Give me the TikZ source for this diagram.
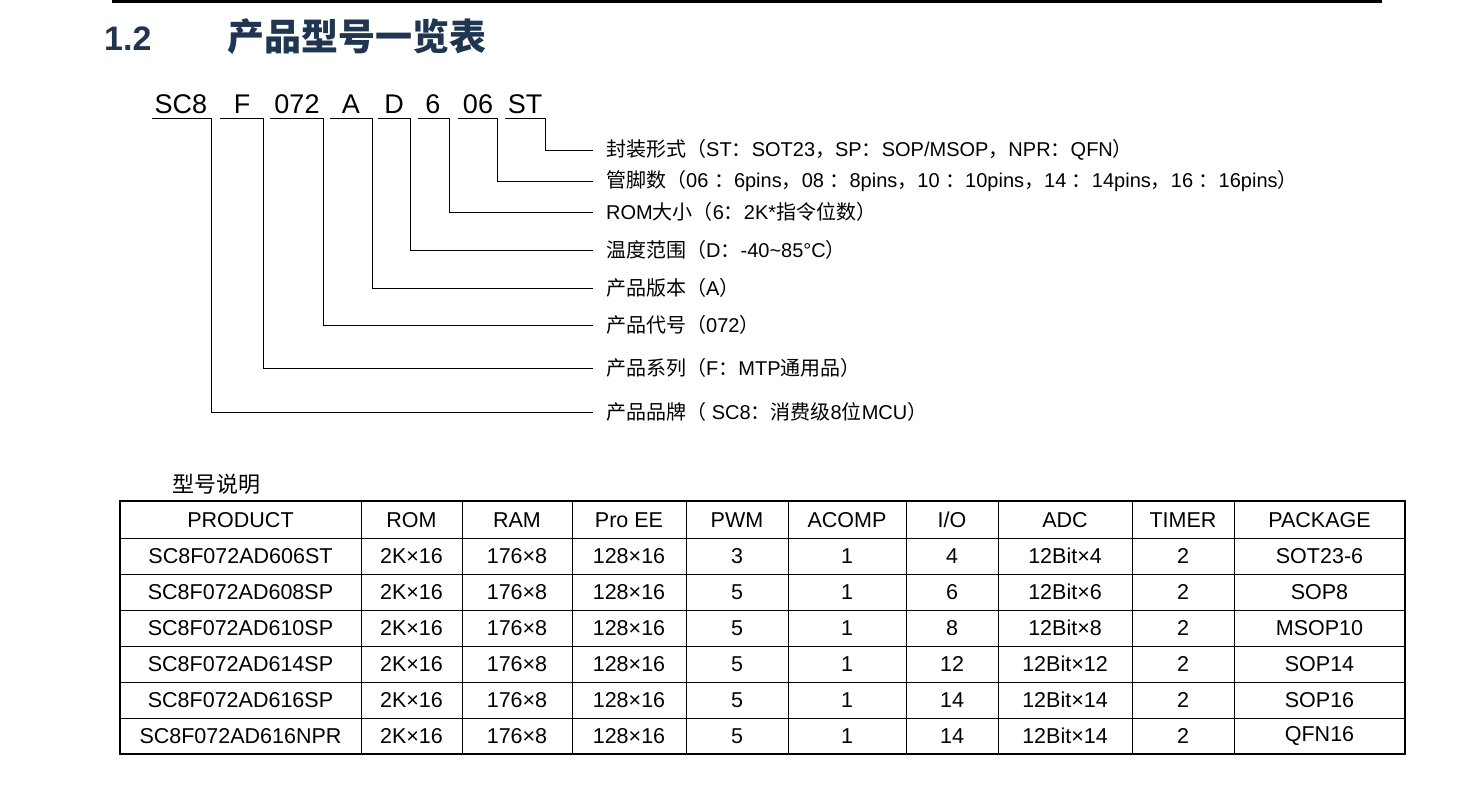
\documentclass[tikz,border=0pt]{standalone}
\usepackage{fontspec}
\setmainfont{Liberation Sans}
\newfontfamily\cjk{Noto Sans CJK SC}
\definecolor{navy}{HTML}{1F3550}
\begin{document}
\begin{tikzpicture}[x=1pt,y=-1pt,
  lab/.style={anchor=west,font=\fontsize{20}{22}\selectfont,inner sep=0pt},
  code/.style={font=\fontsize{27}{29}\selectfont,inner sep=0pt,anchor=base},
  cell/.style={font=\fontsize{21.5}{23}\selectfont,inner sep=0pt},
  ln/.style={line width=1pt}]
\useasboundingbox (0,0) rectangle (1478,798);
\fill[black] (112,0) rectangle (1382,3);
\node[anchor=base west,inner sep=0pt,text=navy,font=\bfseries\fontsize{34}{36}\selectfont] (t1) at (104,50) {1.2};
\node[anchor=base west,inner sep=0pt,text=navy,font=\cjk\bfseries\fontsize{37}{39}\selectfont] (t2) at (227,50) {产品型号一览表};
% code letters
\foreach \t/\x in {SC8/181,F/242,072/297,A/351,D/394,6/433,06/478,ST/525}
  \node[code] at (\x,113) {\t};
% underlines + leader lines
\foreach \a/\b/\y in {152/211/412,220/263/368,270/323/325,330/372/288,378/410/250,418/449/212,458/497/181,505/545/150}
  \draw[ln] (\a,118) -- (\b,118) -- (\b,\y) -- (593,\y);
\node[lab] (l1) at (606,150) {{\cjk 封装形式（}ST{\cjk ：}SOT23{\cjk ，}SP{\cjk ：}SOP/MSOP{\cjk ，}NPR{\cjk ：}QFN{\cjk ）}};
\node[lab] (l2) at (606,181) {{\cjk 管脚数（}06 {\cjk ：}6pins{\cjk ，}08 {\cjk ：}8pins{\cjk ，}10 {\cjk ：}10pins{\cjk ，}14 {\cjk ：}14pins{\cjk ，}16 {\cjk ：}16pins{\cjk ）}};
\node[lab] (l3) at (606,212) {ROM{\cjk 大小（}6{\cjk ：}2K*{\cjk 指令位数）}};
\node[lab] (l4) at (606,250) {{\cjk 温度范围（}D{\cjk ：}-40\textasciitilde 85°C{\cjk ）}};
\node[lab] (l5) at (606,288) {{\cjk 产品版本（}A{\cjk ）}};
\node[lab] (l6) at (606,325) {{\cjk 产品代号（}072{\cjk ）}};
\node[lab] (l7) at (606,368) {{\cjk 产品系列（}F{\cjk ：}MTP{\cjk 通用品）}};
\node[lab] (l8) at (606,412) {{\cjk 产品品牌（} SC8{\cjk ：消费级}8{\cjk 位}MCU{\cjk ）}};
\node[anchor=west,inner sep=0pt,font=\cjk\fontsize{22}{24}\selectfont] (cap) at (172,484) {型号说明};
% table grid
\draw[line width=1.6pt] (120,501) rectangle (1405,754);
\foreach \y in {538,574,610,646,682,718} \draw[ln] (120,\y) -- (1405,\y);
\foreach \x in {361,462,572,686,788,906,998,1132,1234} \draw[ln] (\x,501) -- (\x,754);
\def\row#1#2{%
  \foreach \c/\x [count=\i] in {#2} \node[cell] at (\x,#1) {\c};}
\def\cx{240.5,411.5,517,629,737,847,952,1065,1183,1319.5}
\foreach \t [count=\i] in {PRODUCT,ROM,RAM,Pro EE,PWM,ACOMP,I/O,ADC,TIMER,PACKAGE}{
  \pgfmathparse{{240.5,411.5,517,629,737,847,952,1065,1183,1319.5}[\i-1]}
  \node[cell] at (\pgfmathresult,520) {\t};}
\foreach \y/\p/\pw/\io/\adc/\pk in {556/SC8F072AD606ST/3/4/12Bit×4/SOT23-6,
  592/SC8F072AD608SP/5/6/12Bit×6/SOP8,
  628/SC8F072AD610SP/5/8/12Bit×8/MSOP10,
  664/SC8F072AD614SP/5/12/12Bit×12/SOP14,
  700/SC8F072AD616SP/5/14/12Bit×14/SOP16,
  736/SC8F072AD616NPR/5/14/12Bit×14/QFN16}{
  \node[cell] at (240.5,\y) {\p};
  \node[cell] at (411.5,\y) {2K×16};
  \node[cell] at (517,\y) {176×8};
  \node[cell] at (629,\y) {128×16};
  \node[cell] at (737,\y) {\pw};
  \node[cell] at (847,\y) {1};
  \node[cell] at (952,\y) {\io};
  \node[cell] at (1065,\y) {\adc};
  \node[cell] at (1183,\y) {2};
  \node[cell] at (1319.5,\y) {\pk};}
\end{tikzpicture}
\end{document}
